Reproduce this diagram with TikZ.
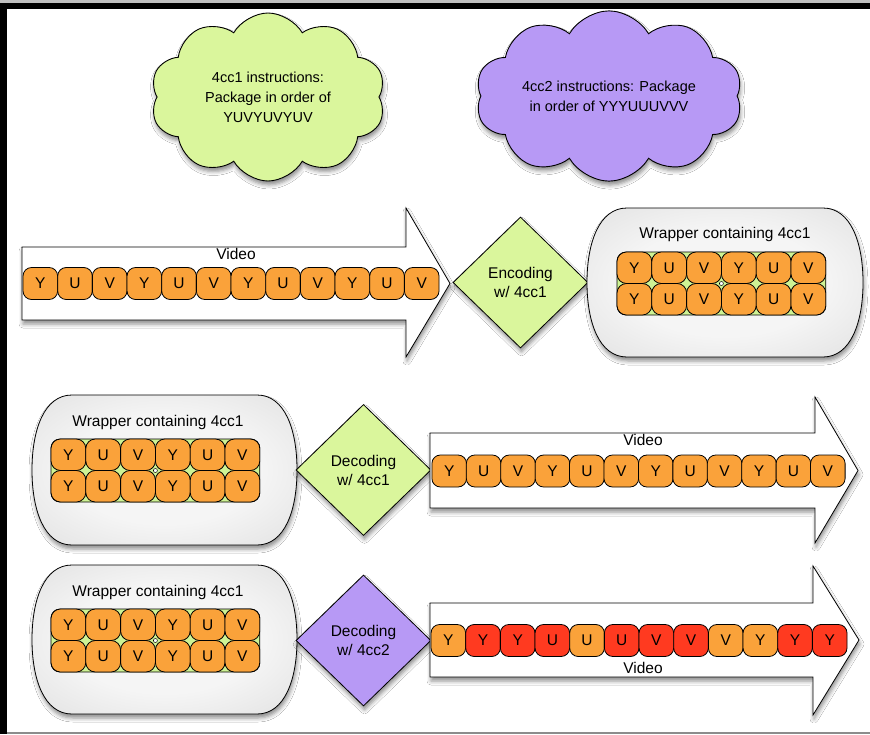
\documentclass[tikz,border=0pt]{standalone}
\usepackage{fontspec}
\setmainfont{Liberation Sans}
\usetikzlibrary{shapes.geometric,shapes.symbols,shadows.blur}
\definecolor{corange}{RGB}{250,162,58}
\definecolor{cred}{RGB}{255,58,32}
\definecolor{cgreen}{RGB}{218,246,156}
\definecolor{cgridgreen}{RGB}{206,243,148}
\definecolor{cpurple}{RGB}{183,153,245}
\definecolor{cwrapin}{RGB}{245,245,245}
\definecolor{cwrapmid}{RGB}{226,226,226}
\definecolor{cwrapout}{RGB}{196,196,196}
\pgfdeclareradialshading{wrapshade}{\pgfpoint{0bp}{0bp}}{color(0bp)=(cwrapin); color(18bp)=(cwrapin); color(36bp)=(cwrapmid); color(50bp)=(cwrapout); color(70bp)=(cwrapout)}
\tikzset{
  shd/.style={blur shadow={shadow xshift=1pt,shadow yshift=-4pt,shadow blur radius=4pt,shadow opacity=45}},
  cell/.style={draw=black,line width=0.8pt,fill=corange,rounded corners=8.5pt,minimum width=34.6pt,minimum height=32pt,inner sep=0pt,font=\fontsize{15.5}{17}\selectfont},
  gcell/.style={cell,minimum width=34.8pt,minimum height=31.5pt,rounded corners=9.5pt},
  lbl/.style={inner sep=0pt,font=\fontsize{15.5}{17}\selectfont},
  decide/.style={diamond,draw=black,line width=0.8pt,minimum width=135pt,minimum height=131pt,inner sep=0pt,align=center,font=\fontsize{15.5}{19}\selectfont,shd},
  thought/.style={cloud,cloud puffs=10,cloud puff arc=120,draw=black,line width=0.9pt,align=center,inner sep=0pt,font=\fontsize{14.5}{20}\selectfont,shd},
  bigarrow/.style={draw=black,line width=0.8pt,fill=white,shd},
}
% wrapper: x0 y0 x1 y1 gridx0 gridy0 titlex titley prefix
\newcommand\wrapper[9]{%
  \shade[shading=wrapshade,draw=black,line width=0.8pt,shd]
    ({#1+40},#2) -- ({#3-40},#2)
    .. controls ({#3-12},#2) and (#3,{#2+35}) .. (#3,{(#2+#4)/2})
    .. controls (#3,{#4-35}) and ({#3-12},#4) .. ({#3-40},#4)
    -- ({#1+40},#4)
    .. controls ({#1+12},#4) and (#1,{#4-35}) .. (#1,{(#2+#4)/2})
    .. controls (#1,{#2+35}) and ({#1+12},#2) .. cycle;
  \node[lbl] (#9title) at (#7,#8) {Wrapper containing 4cc1};
  \draw[fill=cgridgreen,line width=0.8pt,rounded corners=9pt] (#5,#6) rectangle ({#5+208.8},{#6+63});
  \foreach \r in {0,1}{
    \foreach \l [count=\i] in {Y,U,V,Y,U,V}{
      \node[gcell] (#9-\r-\i) at ({#5+34.8*(\i-0.5)},{#6+31.5*(\r+0.5)}) {\l};
    }
  }
  \node[circle,draw=black,fill=white,line width=0.5pt,minimum size=4pt,inner sep=0pt] (#9dot) at ({#5+104.4},{#6+31.5}) {};
}
\begin{document}
\begin{tikzpicture}[x=1pt,y=-1pt]
\useasboundingbox (0,0) rectangle (870,734);
\fill[white] (0,0) rectangle (870,734);
% frame
\fill[black!25] (0,0) rectangle (870,2.5);
\fill[black] (0,2.5) rectangle (870,8.5);
\fill[black] (0,2.5) rectangle (6.5,734);
\fill[black!45] (6.5,731.5) rectangle (870,734);

% clouds
\node[thought,fill=cgreen,aspect=1.3,minimum width=235pt,minimum height=168pt] (cloudA) at (268,97)
  {4cc1 instructions:\\Package in order of\\YUVYUVYUV};
\node[thought,fill=cpurple,aspect=1.85,minimum width=267pt,minimum height=140pt] (cloudB) at (609,96)
  {4cc2 instructions: Package\\in order of YYYUUUVVV};

% row 1
\path[bigarrow] (22,247) -- (406,247) -- (406,208) -- (450,283.5) -- (406,357) -- (406,320) -- (22,320) -- cycle;
\node[lbl] (vidA) at (236,254) {Video};
\foreach \l [count=\i] in {Y,U,V,Y,U,V,Y,U,V,Y,U,V}{
  \node[cell] (ra\i) at ({23+34.67*(\i-0.5)},283.5) {\l};
}
\node[decide,fill=cgreen] (enc) at (520.5,282.5) {Encoding\\w/ 4cc1};
\wrapper{587}{208}{863}{357}{617}{252}{725}{234}{wa}

% row 2
\wrapper{32}{395}{297}{545}{51}{439}{158}{422}{wb}
\node[decide,fill=cgreen] (decA) at (363.5,470) {Decoding\\w/ 4cc1};
\path[bigarrow] (430,433) -- (815,433) -- (815,397) -- (858,470.5) -- (815,543) -- (815,508) -- (430,508) -- cycle;
\node[lbl] (vidB) at (643,440) {Video};
\foreach \l [count=\i] in {Y,U,V,Y,U,V,Y,U,V,Y,U,V}{
  \node[cell] (rb\i) at ({432+34.42*(\i-0.5)},471) {\l};
}

% row 3
\wrapper{32}{565}{297}{714}{51}{609}{158}{592}{wc}
\node[decide,fill=cpurple] (decB) at (363.5,640.5) {Decoding\\w/ 4cc2};
\path[bigarrow] (430,603) -- (813,603) -- (813,566) -- (859,640) -- (813,715) -- (813,677) -- (430,677) -- cycle;
\node[lbl] (vidC) at (643,668) {Video};
\foreach \l/\c [count=\i] in {Y/corange,Y/cred,Y/cred,U/cred,U/corange,U/cred,V/cred,V/cred,V/corange,Y/corange,Y/cred,Y/cred}{
  \node[cell,fill=\c] (rc\i) at ({431+34.67*(\i-0.5)},640.5) {\l};
}
\end{tikzpicture}
\end{document}
